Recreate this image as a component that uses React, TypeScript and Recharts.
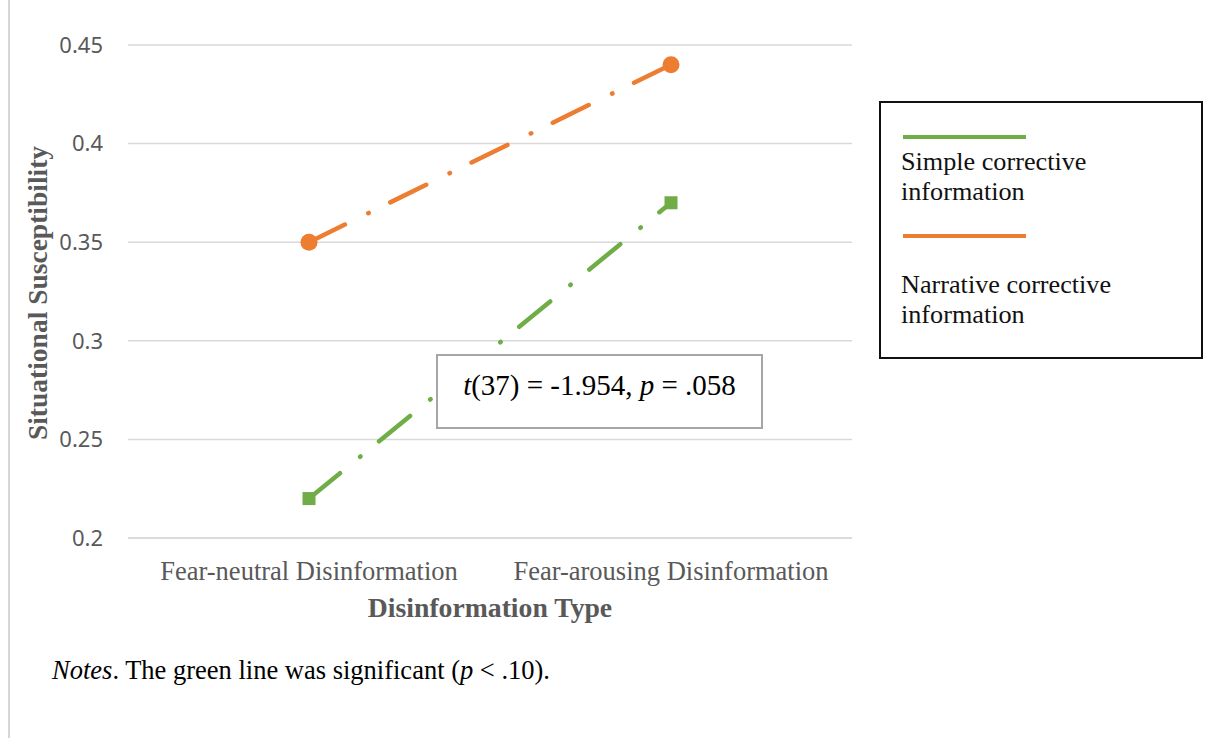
import { LineChart, Line, XAxis, YAxis, CartesianGrid, Legend } from 'recharts';

// disinformation conditions on the x axis
const disinfoTypes = ['Fear-neutral Disinformation', 'Fear-arousing Disinformation'];

// mean situational susceptibility per condition
const simpleValues = [0.22, 0.37];
const narrativeValues = [0.35, 0.44];

const seriesNames = ['Simple corrective information', 'Narrative corrective information'];
const yTicks = [0.2, 0.25, 0.3, 0.35, 0.4, 0.45];

const GREEN = '#70AD47';
const ORANGE = '#ED7D31';
const GRID = '#D9D9D9';
const AXIS_TEXT = '#595959';
const SERIF = "'Liberation Serif', 'Times New Roman', serif";

const data = disinfoTypes.map((type, i) => ({
  type,
  simple: simpleValues[i],
  narrative: narrativeValues[i],
}));

const SquareDot = (props: any) => {
  const { cx, cy, index } = props;
  if (cx == null || cy == null) return null;
  return <rect key={`sq-${index}`} x={cx - 6.5} y={cy - 6.5} width={13} height={13} fill={GREEN} />;
};

const CircleDot = (props: any) => {
  const { cx, cy, index } = props;
  if (cx == null || cy == null) return null;
  return <circle key={`ci-${index}`} cx={cx} cy={cy} r={8.5} fill={ORANGE} />;
};

const LegendBox = (props: any) => {
  // keep the series order, not alphabetical
  const items = [...(props.payload || [])].sort(
    (a: any, b: any) => seriesNames.indexOf(a.value) - seriesNames.indexOf(b.value)
  );
  const lineTops = [32, 131];
  const textTops = [44, 167];
  return (
    <div
      style={{
        position: 'relative',
        width: 320,
        height: 254,
        border: '2px solid #111',
        background: '#fff',
        fontFamily: SERIF,
        fontSize: 26.2,
        lineHeight: '30px',
        color: '#111',
      }}
    >
      {items.map((it: any, i: number) => (
        <div key={it.value}>
          <div
            style={{
              position: 'absolute',
              left: 22,
              top: lineTops[i],
              width: 123,
              height: 4,
              background: it.color,
            }}
          />
          <div style={{ position: 'absolute', left: 20, top: textTops[i], width: 250 }}>{it.value}</div>
        </div>
      ))}
    </div>
  );
};

export default function App() {
  return (
    <div style={{ position: 'absolute', left: 0, top: 0, width: 1205, height: 738, background: '#fff', overflow: 'hidden' }}>
      {/* page edge */}
      <div style={{ position: 'absolute', left: 8, top: 0, width: 2, height: 738, background: '#d6d6d6' }} />

      <div style={{ position: 'absolute', left: 0, top: 0 }}>
        <LineChart width={1205} height={738} data={data} margin={{ top: 45, right: 353, bottom: 170, left: 68 }}>
          <CartesianGrid vertical={false} stroke={GRID} strokeWidth={1.5} />
          <XAxis
            dataKey="type"
            padding={{ left: 181, right: 181 }}
            axisLine={{ stroke: GRID, strokeWidth: 1.5 }}
            tickLine={false}
            tickMargin={17}
            tick={{ fontSize: 26.5, fill: AXIS_TEXT, fontFamily: SERIF }}
            interval={0}
          />
          <YAxis
            domain={[0.2, 0.45]}
            ticks={yTicks}
            width={60}
            axisLine={false}
            tickLine={false}
            tickMargin={19}
            tick={{ fontSize: 22, fill: AXIS_TEXT, fontFamily: "'Noto Sans', sans-serif" }}
          />
          <Legend
            layout="vertical"
            align="center"
            verticalAlign="middle"
            wrapperStyle={{ left: 879, top: 101, width: 324, height: 258 }}
            content={<LegendBox />}
          />
          <Line
            type="linear"
            dataKey="simple"
            name={seriesNames[0]}
            stroke={GREEN}
            strokeWidth={4.5}
            strokeDasharray="40 26 0.5 24"
            strokeLinecap="round"
            dot={<SquareDot />}
            activeDot={false}
            isAnimationActive={false}
          />
          <Line
            type="linear"
            dataKey="narrative"
            name={seriesNames[1]}
            stroke={ORANGE}
            strokeWidth={4.5}
            strokeDasharray="40 26 0.5 24"
            strokeLinecap="round"
            dot={<CircleDot />}
            activeDot={false}
            isAnimationActive={false}
          />
        </LineChart>
      </div>

      {/* y axis title */}
      <div
        style={{
          position: 'absolute',
          left: 37,
          top: 293,
          transform: 'translate(-50%, -50%) rotate(-90deg)',
          whiteSpace: 'nowrap',
          fontFamily: SERIF,
          fontWeight: 'bold',
          fontSize: 27.5,
          lineHeight: '27px',
          color: AXIS_TEXT,
        }}
      >
        Situational Susceptibility
      </div>

      {/* x axis title */}
      <div
        style={{
          position: 'absolute',
          left: 128,
          top: 594,
          width: 724,
          textAlign: 'center',
          fontFamily: SERIF,
          fontWeight: 'bold',
          fontSize: 27.7,
          lineHeight: '27px',
          color: AXIS_TEXT,
        }}
      >
        Disinformation Type
      </div>

      {/* t-test annotation */}
      <div
        style={{
          position: 'absolute',
          left: 436,
          top: 354,
          width: 323,
          height: 71,
          border: '2px solid #A6A6A6',
          background: '#fff',
          zIndex: 2,
        }}
      >
        <div
          style={{
            position: 'absolute',
            left: 0,
            right: 0,
            top: 15,
            textAlign: 'center',
            fontFamily: SERIF,
            fontSize: 29,
            lineHeight: '29px',
            color: '#000',
            whiteSpace: 'nowrap',
          }}
        >
          <i>t</i>(37) = -1.954, <i>p</i> = .058
        </div>
      </div>

      {/* footnote */}
      <div
        style={{
          position: 'absolute',
          left: 52,
          top: 657,
          fontFamily: SERIF,
          fontSize: 26.5,
          lineHeight: '26.5px',
          color: '#000',
          whiteSpace: 'nowrap',
        }}
      >
        <i>Notes</i>. The green line was significant (<i>p</i> &lt; .10).
      </div>
    </div>
  );
}
